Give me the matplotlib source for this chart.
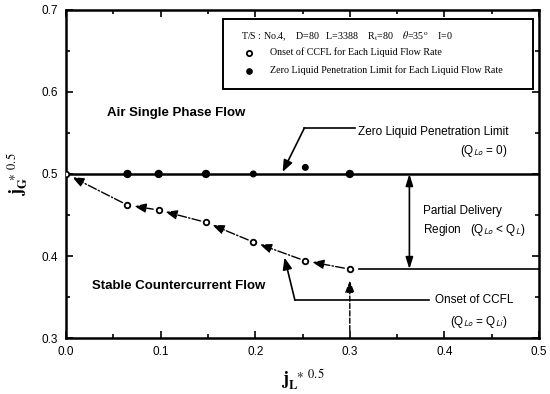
import numpy as np
import matplotlib
matplotlib.use('Agg')
import matplotlib.pyplot as plt
from matplotlib.ticker import MultipleLocator

plt.rcParams['font.family'] = ['Liberation Sans', 'DejaVu Sans']
plt.rcParams['mathtext.fontset'] = 'stix'

# onset of CCFL (open circles)
ccfl_x = [0.0, 0.065, 0.098, 0.148, 0.198, 0.253, 0.300]
ccfl_y = [0.500, 0.462, 0.456, 0.441, 0.417, 0.394, 0.384]

# zero liquid penetration limit (filled circles)
zero_x = [0.065, 0.098, 0.148, 0.198, 0.253, 0.300]
zero_y = [0.500, 0.500, 0.500, 0.500, 0.508, 0.500]
zero_size = [5, 5, 5, 4, 4, 5]

zlp_level = 0.5
partial_x = 0.363

fig = plt.figure(figsize=(5.5, 3.94), dpi=100)
ax = fig.add_axes([0.12, 0.142, 0.86, 0.833])

# zero liquid penetration line
ax.plot([0.0, 0.5], [zlp_level, zlp_level], color='black', lw=1.8, zorder=2)
# partial delivery lower bound
ax.plot([0.31, 0.5], [ccfl_y[-1], ccfl_y[-1]], color='black', lw=1.2, zorder=2)

# CCFL path with arrows pointing to lower liquid flow
for i in range(len(ccfl_x) - 1):
    ax.annotate('', xy=(ccfl_x[i], ccfl_y[i]), xytext=(ccfl_x[i + 1], ccfl_y[i + 1]),
                arrowprops=dict(arrowstyle='-|>,head_length=0.7,head_width=0.28',
                                color='black', lw=1.0, linestyle='-.',
                                shrinkA=4, shrinkB=5))

ax.plot(ccfl_x, ccfl_y, 'o', mfc='white', mec='black', mew=1.3, ms=4, zorder=4)
ax.scatter(zero_x, zero_y, s=[v ** 2 for v in zero_size], color='black', zorder=4)

# region labels
ax.text(0.043, 0.574, 'Air Single Phase Flow', fontsize=9.5, fontweight='bold', va='center')
ax.text(0.027, 0.363, 'Stable Countercurrent Flow', fontsize=9.5, fontweight='bold', va='center')

# zero liquid penetration annotation
ax.plot([0.252, 0.305], [0.556, 0.556], color='black', lw=1.2)
ax.annotate('', xy=(0.229, 0.5025), xytext=(0.252, 0.556),
            arrowprops=dict(arrowstyle='-|>,head_length=0.7,head_width=0.28',
                            color='black', lw=1.2, shrinkA=0, shrinkB=0))
ax.text(0.309, 0.551, 'Zero Liquid Penetration Limit', fontsize=8.5, va='center')
ax.text(0.416, 0.528, r'(Q$_{\mathsf{Lo}}$ = 0)', fontsize=8.5, va='center')

# partial delivery annotation
ax.annotate('', xy=(partial_x, zlp_level), xytext=(partial_x, ccfl_y[-1]),
            arrowprops=dict(arrowstyle='<|-|>,head_length=0.7,head_width=0.22',
                            color='black', lw=1.2, shrinkA=0, shrinkB=0))
ax.text(0.377, 0.455, 'Partial Delivery', fontsize=8.5, va='center')
ax.text(0.377, 0.432, r'Region   (Q$_{\mathsf{Lo}}$ < Q$_{\mathsf{L}}$)', fontsize=8.5, va='center')

# onset of CCFL annotation
ax.plot([0.242, 0.384], [0.346, 0.346], color='black', lw=1.2)
ax.annotate('', xy=(0.231, 0.398), xytext=(0.242, 0.346),
            arrowprops=dict(arrowstyle='-|>,head_length=0.7,head_width=0.28',
                            color='black', lw=1.2, shrinkA=0, shrinkB=0))
ax.text(0.390, 0.346, 'Onset of CCFL', fontsize=8.5, va='center')
ax.text(0.406, 0.319, r'(Q$_{\mathsf{Lo}}$ = Q$_{\mathsf{Li}}$)', fontsize=8.5, va='center')
ax.annotate('', xy=(0.300, 0.370), xytext=(0.300, 0.309),
            arrowprops=dict(arrowstyle='-|>,head_length=0.7,head_width=0.28',
                            color='black', lw=1.0, linestyle='--', shrinkA=0, shrinkB=0))

# legend box
lx0, ly0 = 0.166, 0.604
ax.add_patch(plt.Rectangle((lx0, ly0), 0.328, 0.085, fill=False, lw=1.4,
                           edgecolor='black', zorder=5))
serif = ['Liberation Serif', 'DejaVu Serif']
ax.text(0.185, 0.668,
        r'T/S : No.4,    D=80   L=3388    R$_{\rm t}$=80    $\theta$=35$^{\rm o}$    I=0',
        fontsize=7.2, family=serif, va='center')
ax.plot([0.193], [0.648], 'o', mfc='white', mec='black', mew=1.3, ms=3.8)
ax.text(0.216, 0.648, 'Onset of CCFL for Each Liquid Flow Rate',
        fontsize=7.2, family=serif, va='center')
ax.plot([0.193], [0.626], 'o', color='black', ms=3.8)
ax.text(0.216, 0.626, 'Zero Liquid Penetration Limit for Each Liquid Flow Rate',
        fontsize=7.2, family=serif, va='center')

ax.set_xlim(0.0, 0.5)
ax.set_ylim(0.3, 0.7)
ax.xaxis.set_major_locator(MultipleLocator(0.1))
ax.xaxis.set_minor_locator(MultipleLocator(0.05))
ax.yaxis.set_major_locator(MultipleLocator(0.1))
ax.yaxis.set_minor_locator(MultipleLocator(0.05))
ax.xaxis.set_major_formatter(plt.FormatStrFormatter('%.1f'))
ax.yaxis.set_major_formatter(plt.FormatStrFormatter('%.1f'))
ax.tick_params(which='both', direction='in', top=True, right=True, width=1.2)
ax.tick_params(which='major', length=5, labelsize=8.5, pad=6)
ax.tick_params(which='minor', length=3)
for s in ax.spines.values():
    s.set_linewidth(1.8)

ax.set_xlabel(r'$\mathbf{j}_{\mathbf{L}}^{\ \ \ast\ 0.5}$', fontsize=13, labelpad=6)
ax.set_ylabel(r'$\mathbf{j}_{\mathbf{G}}^{\ \ \ast\ 0.5}$', fontsize=13, labelpad=8)

fig.savefig('out.png', dpi=100)
